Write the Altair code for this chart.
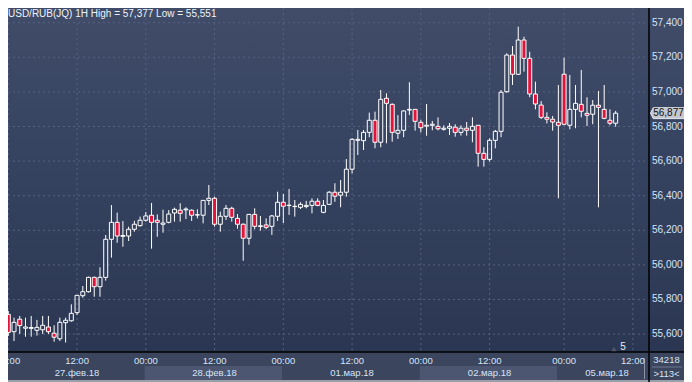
import altair as alt
import numpy as np
import pandas as pd

# hourly slots: 0 = 27.02.18 00:00 ... 95 = 02.03.18 23:00, 96 = weekend reopen, 97 = 05.03.18 00:00
slot = list(range(-1, 107))
open_ = [55.750, 55.714, 55.614, 55.686, 55.634, 55.633, 55.622, 55.625, 55.641, 55.605,
         55.573, 55.666, 55.677, 55.724, 55.822, 55.845, 55.928, 55.874, 55.928, 56.148,
         56.246, 56.165, 56.167, 56.206, 56.227, 56.258, 56.287, 56.258, 56.235, 56.246,
         56.300, 56.316, 56.318, 56.316, 56.288, 56.287, 56.373, 56.385, 56.235, 56.281,
         56.327, 56.269, 56.235, 56.154, 56.292, 56.222, 56.231, 56.223, 56.281, 56.362,
         56.343, 56.337, 56.333, 56.337, 56.344, 56.368, 56.304, 56.350, 56.420, 56.403,
         56.420, 56.553, 56.720, 56.718, 56.766, 56.836, 56.709, 56.963, 56.928, 56.761,
         56.778, 56.895, 56.899, 56.824, 56.802, 56.807, 56.801, 56.784, 56.790, 56.796,
         56.766, 56.790, 56.778, 56.807, 56.645, 56.610, 56.720, 56.772, 57.001, 57.213,
         57.102, 57.300, 57.194, 56.988, 56.924, 56.853, 56.842, 56.824, 57.102, 56.807,
         56.899, 56.928, 56.876, 56.871, 56.923, 56.899, 56.836, 56.819]
high = [55.760, 55.734, 55.695, 55.705, 55.695, 55.705, 55.682, 55.705, 55.705, 55.651,
        55.695, 55.695, 55.772, 55.826, 55.878, 55.932, 55.932, 55.986, 56.173, 56.346,
        56.302, 56.254, 56.221, 56.255, 56.279, 56.306, 56.358, 56.292, 56.319, 56.317,
        56.331, 56.356, 56.333, 56.321, 56.321, 56.375, 56.462, 56.394, 56.308, 56.346,
        56.336, 56.294, 56.240, 56.294, 56.327, 56.283, 56.269, 56.289, 56.423, 56.410,
        56.439, 56.375, 56.362, 56.370, 56.385, 56.385, 56.375, 56.427, 56.472, 56.491,
        56.612, 56.732, 56.780, 56.780, 56.880, 56.886, 57.011, 56.992, 56.934, 56.866,
        56.895, 57.056, 56.899, 56.838, 56.930, 56.832, 56.853, 56.807, 56.820, 56.813,
        56.807, 56.826, 56.853, 56.807, 56.680, 56.732, 56.780, 57.011, 57.223, 57.265,
        57.377, 57.319, 57.232, 57.059, 56.947, 56.882, 56.861, 57.040, 57.198, 57.098,
        57.040, 57.127, 56.969, 56.953, 57.005, 57.040, 56.899, 56.890]
low = [55.720, 55.589, 55.560, 55.601, 55.585, 55.585, 55.591, 55.601, 55.601, 55.556,
       55.560, 55.551, 55.672, 55.710, 55.810, 55.840, 55.816, 55.816, 55.909, 56.042,
       56.128, 56.105, 56.138, 56.192, 56.221, 56.250, 56.094, 56.163, 56.186, 56.240,
       56.250, 56.250, 56.265, 56.254, 56.269, 56.240, 56.346, 56.221, 56.192, 56.260,
       56.250, 56.209, 56.024, 56.117, 56.206, 56.198, 56.206, 56.173, 56.254, 56.242,
       56.289, 56.279, 56.323, 56.327, 56.298, 56.339, 56.298, 56.346, 56.365, 56.333,
       56.394, 56.529, 56.635, 56.664, 56.738, 56.674, 56.680, 56.703, 56.712, 56.728,
       56.738, 56.866, 56.776, 56.766, 56.747, 56.778, 56.778, 56.776, 56.751, 56.741,
       56.747, 56.747, 56.709, 56.568, 56.568, 56.597, 56.674, 56.738, 56.995, 57.040,
       57.098, 57.117, 56.969, 56.899, 56.843, 56.818, 56.776, 56.385, 56.807, 56.784,
       56.790, 56.853, 56.803, 56.813, 56.333, 56.842, 56.807, 56.799]
close = [55.725, 55.610, 55.668, 55.649, 55.641, 55.638, 55.639, 55.651, 55.614, 55.582,
         55.668, 55.680, 55.720, 55.824, 55.845, 55.928, 55.874, 55.928, 56.148, 56.246,
         56.167, 56.170, 56.206, 56.235, 56.258, 56.283, 56.246, 56.246, 56.242, 56.294,
         56.321, 56.298, 56.323, 56.287, 56.290, 56.373, 56.385, 56.235, 56.281, 56.327,
         56.275, 56.235, 56.154, 56.292, 56.223, 56.226, 56.217, 56.283, 56.362, 56.339,
         56.345, 56.339, 56.350, 56.344, 56.368, 56.344, 56.344, 56.420, 56.397, 56.420,
         56.553, 56.726, 56.726, 56.766, 56.836, 56.709, 56.957, 56.934, 56.766, 56.778,
         56.890, 56.899, 56.830, 56.793, 56.807, 56.813, 56.787, 56.790, 56.801, 56.766,
         56.790, 56.778, 56.801, 56.645, 56.610, 56.720, 56.772, 56.998, 57.213, 57.102,
         57.300, 57.194, 56.988, 56.930, 56.853, 56.842, 56.826, 56.807, 56.813, 56.899,
         56.934, 56.888, 56.865, 56.923, 56.911, 56.847, 56.819, 56.877]

tick_slot = [0, 12, 24, 36, 48, 60, 72, 84, 97, 109]
tick_label = ["00:00", "12:00", "00:00", "12:00", "00:00", "12:00", "00:00", "12:00", "00:00", "12:00"]
day_label = ["27.фев.18", "28.фев.18", "01.мар.18", "02.мар.18", "05.мар.18"]
day_label_slot = [12, 36, 60, 84, 104.5]
day_start = [-1.5, 23.8, 47.8, 71.8, 95.8]
day_end = [23.8, 47.8, 71.8, 95.8, 111.8]
y_ticks = [55.6, 55.8, 56.0, 56.2, 56.4, 56.6, 56.8, 57.0, 57.2, 57.4]
box_lines = ["34218", ">113<"]

FONT = "Liberation Sans"
RED = "#e3143b"
LBL = "#d4e4fa"
W, H = 641, 344
TOT_W, TOT_H = 676, 374
RC = (W + TOT_W) / 2  # centre of the right-hand column

df = pd.DataFrame(dict(slot=slot, open=open_, high=high, low=low, close=close))
df["top"] = df[["open", "close"]].max(axis=1)
df["bot"] = df[["open", "close"]].min(axis=1)
df["dir"] = np.where(df["close"] < df["open"], "down", "up")

xs = alt.Scale(domain=[-0.052, 111.82], nice=False, zero=False, padding=0)
ys = alt.Scale(domain=[55.4965, 57.485], nice=False, zero=False, padding=0)

one = pd.DataFrame({"k": [0]})

def fmt(v):
    return f"{v:.3f}".replace(".", ",")

grad = alt.Gradient(gradient="linear",
                    stops=[alt.GradientStop(color="#404c68", offset=0),
                           alt.GradientStop(color="#364360", offset=0.45),
                           alt.GradientStop(color="#2b3752", offset=1)],
                    x1=0, x2=0, y1=0, y2=1)

bg = alt.Chart(one).mark_rect(color=grad).encode(
    x=alt.value(0), x2=alt.value(TOT_W), y=alt.value(0), y2=alt.value(H))

bottom_bg = alt.Chart(one).mark_rect(color="#3b455d").encode(
    x=alt.value(0), x2=alt.value(TOT_W), y=alt.value(H), y2=alt.value(TOT_H))

days = pd.DataFrame(dict(start=day_start, end=day_end, label=day_label, pos=day_label_slot))
days["shade"] = np.arange(len(days)) % 2
bands = alt.Chart(days).mark_rect().encode(
    x=alt.X("start:Q", scale=xs, axis=None), x2="end:Q",
    y=alt.value(H + 14), y2=alt.value(H + 28),
    color=alt.Color("shade:N", scale=alt.Scale(domain=[0, 1], range=["#3b455d", "#4c5670"]), legend=None))

frame_bottom = alt.Chart(one).mark_rect(color="#9aa0aa").encode(
    x=alt.value(0), x2=alt.value(TOT_W), y=alt.value(H + 28), y2=alt.value(TOT_H))

ydf = pd.DataFrame({"v": y_ticks})
ydf["label"] = ydf["v"].map(fmt)
ygrid = alt.Chart(ydf).mark_rule(color="#56627f", strokeDash=[2, 3], strokeWidth=1).encode(
    y=alt.Y("v:Q", scale=ys, axis=None), x=alt.value(0), x2=alt.value(W))
ylabels = alt.Chart(ydf).mark_text(font=FONT, fontSize=10, color=LBL, align="left", baseline="middle").encode(
    y=alt.Y("v:Q", scale=ys, axis=None), x=alt.value(W + 3), text="label:N")

xgrid = alt.Chart(pd.DataFrame({"s": tick_slot})).mark_rule(
    color="#56627f", strokeDash=[2, 3], strokeWidth=1).encode(
    x=alt.X("s:Q", scale=xs, axis=None), y=alt.value(0), y2=alt.value(H))

wick_up = alt.Chart(df).mark_rule(color="white", strokeWidth=1, clip=True).encode(
    x=alt.X("slot:Q", scale=xs, axis=None),
    y=alt.Y("high:Q", scale=ys, axis=None), y2="top:Q")
wick_dn = alt.Chart(df).mark_rule(color="white", strokeWidth=1, clip=True).encode(
    x=alt.X("slot:Q", scale=xs, axis=None),
    y=alt.Y("bot:Q", scale=ys, axis=None), y2="low:Q")
body = alt.Chart(df).mark_bar(width=4, stroke="white", strokeWidth=1, clip=True).encode(
    x=alt.X("slot:Q", scale=xs, axis=None),
    y=alt.Y("top:Q", scale=ys, axis=None), y2="bot:Q",
    fill=alt.Fill("dir:N", scale=alt.Scale(domain=["up", "down"], range=["transparent", RED]), legend=None))

hline = alt.Chart(one).mark_rule(color="#000000", strokeWidth=1.5).encode(
    x=alt.value(0), x2=alt.value(TOT_W), y=alt.value(H))
vline = alt.Chart(one).mark_rule(color="#000000", strokeWidth=1.5).encode(
    x=alt.value(W), y=alt.value(0), y2=alt.value(TOT_H))
sep = alt.Chart(one).mark_rule(color="#8a93a6", strokeWidth=1).encode(
    x=alt.value(636.5), y=alt.value(H + 6), y2=alt.value(H + 27))
sep2 = alt.Chart(one).mark_rule(color="#6f7890", strokeWidth=1).encode(
    x=alt.value(W + 3), x2=alt.value(TOT_W - 2), y=alt.value(H + 15))

ticks_df = pd.DataFrame({"s": tick_slot, "t": tick_label})
time_text = alt.Chart(ticks_df).mark_text(font=FONT, fontSize=9.5, color=LBL, baseline="middle").encode(
    x=alt.X("s:Q", scale=xs, axis=None), y=alt.value(H + 9), text="t:N")
date_text = alt.Chart(days).mark_text(font=FONT, fontSize=9.5, color=LBL, baseline="middle").encode(
    x=alt.X("pos:Q", scale=xs, axis=None), y=alt.value(H + 21), text="label:N")

last = df.tail(1).copy()
last["label"] = last["close"].map(fmt)
price_box = alt.Chart(last).mark_point(
    shape="M-1,0L-0.84,-0.32L1,-0.32L1,0.32L-0.84,0.32Z", size=1156, filled=True,
    color="#c3c7cf", stroke="#e8eaee", strokeWidth=1, opacity=1).encode(
    x=alt.value(RC + 1), y=alt.Y("close:Q", scale=ys, axis=None))
price_text = alt.Chart(last).mark_text(font=FONT, fontSize=10, color="#101010", baseline="middle", dx=2).encode(
    x=alt.value(RC), y=alt.Y("close:Q", scale=ys, axis=None), text="label:N")

title_str = f"USD/RUB(JQ) 1H High = {fmt(max(high))} Low = {fmt(min(low))}"
title = alt.Chart(pd.DataFrame({"t": [title_str]})).mark_text(
    font=FONT, fontSize=10, color="#eef3fa", align="left", baseline="top").encode(
    x=alt.value(0), y=alt.value(1), text="t:N")

box_top = alt.Chart(pd.DataFrame({"t": [box_lines[0]]})).mark_text(
    font=FONT, fontSize=9.5, color=LBL, baseline="middle").encode(
    x=alt.value(RC), y=alt.value(H + 8), text="t:N")
box_bot = alt.Chart(pd.DataFrame({"t": [box_lines[1]]})).mark_text(
    font=FONT, fontSize=9.5, color=LBL, baseline="middle").encode(
    x=alt.value(RC), y=alt.value(H + 22), text="t:N")

marker = alt.Chart(pd.DataFrame({"t": ["5"]})).mark_text(font=FONT, fontSize=10, color="#e6ecf5", baseline="middle").encode(
    x=alt.value(615), y=alt.value(H - 5), text="t:N")
tri = alt.Chart(one).mark_point(shape="triangle-up", size=28, filled=True, color="#4f566b", opacity=1).encode(
    x=alt.value(606), y=alt.value(H - 3))

chart = alt.layer(
    bg, bottom_bg, bands, frame_bottom, ygrid, xgrid, wick_up, wick_dn, body,
    hline, vline, sep, sep2, time_text, date_text, ylabels, price_box, price_text, title,
    box_top, box_bot, marker, tri
).properties(
    width=W, height=H, autosize=alt.AutoSizeParams(type="none"),
    padding={"left": 0, "top": 0, "right": TOT_W - W, "bottom": TOT_H - H},
    background="#3b455d"
).configure_view(strokeWidth=0)

chart.save("out.html", embed_options={"renderer": "svg", "actions": False})
